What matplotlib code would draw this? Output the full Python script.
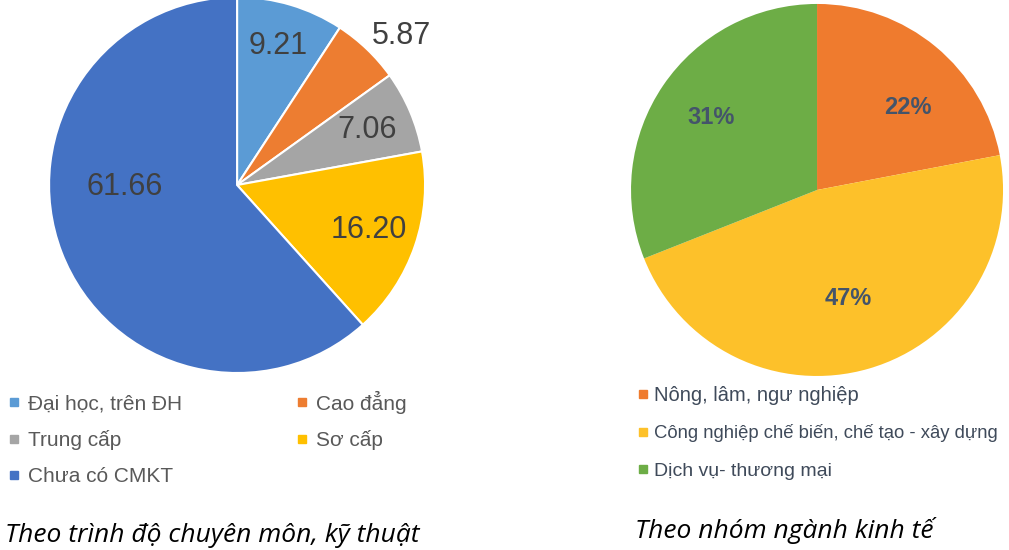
import numpy as np
import matplotlib.pyplot as plt
from matplotlib.lines import Line2D

# left pie: by professional/technical level
level_labels = ["Đại học, trên ĐH", "Cao đẳng", "Trung cấp", "Sơ cấp", "Chưa có CMKT"]
level_values = [9.21, 5.87, 7.06, 16.20, 61.66]
level_colors = ["#5B9BD5", "#ED7D31", "#A5A5A5", "#FFC000", "#4472C4"]

# right pie: by economic sector
sector_labels = ["Nông, lâm, ngư nghiệp", "Công nghiệp chế biến, chế tạo - xây dựng", "Dịch vụ- thương mại"]
sector_values = [22, 47, 31]
sector_colors = ["#EF7B2E", "#FDC12A", "#6DAD46"]

captions = ["Theo trình độ chuyên môn, kỹ thuật", "Theo nhóm ngành kinh tế"]

fig = plt.figure(figsize=(10.09, 5.5), dpi=100)

# left pie
ax1 = fig.add_axes([0.0486, 0.3218, 0.3727, 0.6836])
wedges1, _ = ax1.pie(level_values, colors=level_colors, startangle=90, counterclock=False,
                     wedgeprops=dict(edgecolor="white", linewidth=1.5))
label_dist = [0.77, 1.18, 0.75, 0.74, 0.6]
label_turn = [0, -4, 0, 0, -20]  # degrees, excel-like label placement
for w, v, d, t in zip(wedges1, level_values, label_dist, label_turn):
    ang = np.deg2rad((w.theta1 + w.theta2) / 2 + t)
    ax1.text(d * np.cos(ang), d * np.sin(ang), f"{v:.2f}", ha="center", va="center",
             fontsize=22, color="#404040", family="Liberation Sans")
ax1.set_xlim(-1, 1)
ax1.set_ylim(-1, 1)

# right pie
ax2 = fig.add_axes([0.6254, 0.3164, 0.3687, 0.6764])
wedges2, _ = ax2.pie(sector_values, colors=sector_colors, startangle=90, counterclock=False,
                     wedgeprops=dict(edgecolor="none"))
pct_dist = [0.66, 0.61, 0.69]
pct_turn = [-8, 0, 0]
for w, v, d, t in zip(wedges2, sector_values, pct_dist, pct_turn):
    ang = np.deg2rad((w.theta1 + w.theta2) / 2 + t)
    ax2.text(d * np.cos(ang), d * np.sin(ang), f"{v}%", ha="center", va="center",
             fontsize=17, fontweight="bold", color="#44546A", family="Liberation Sans")
ax2.set_xlim(-1, 1)
ax2.set_ylim(-1, 1)

# left legend, row order like the reference (2 columns)
order = [0, 2, 4, 1, 3]
h1 = [Line2D([], [], marker="s", ls="", color=level_colors[i], markersize=6) for i in order]
leg1 = fig.legend(h1, [level_labels[i] for i in order], ncol=2, loc="upper left",
                  bbox_to_anchor=(-0.013, 0.324), frameon=False, handletextpad=0.25,
                  columnspacing=5.4, labelspacing=0.8, handlelength=0.8,
                  prop=dict(family="Liberation Sans", size=15))
for t in leg1.get_texts():
    t.set_color("#595959")

h2 = [Line2D([], [], marker="s", ls="", color=c, markersize=6) for c in sector_colors]
leg2 = fig.legend(h2, sector_labels, loc="upper left", bbox_to_anchor=(0.612, 0.33),
                  frameon=False, handletextpad=0.2, labelspacing=1.0, handlelength=0.8,
                  prop=dict(family="Liberation Sans", size=14))
sizes2 = [14.5, 13.3, 14]
for t, s in zip(leg2.get_texts(), sizes2):
    t.set_color("#3F4A5A")
    t.set_fontsize(s)

fig.text(0.21, 0.027, captions[0], ha="center", va="center", fontsize=19,
         style="italic", family="Open Sans")
fig.text(0.7775, 0.035, captions[1], ha="center", va="center", fontsize=19,
         style="italic", family="Open Sans")

fig.savefig("out.png", dpi=100)
